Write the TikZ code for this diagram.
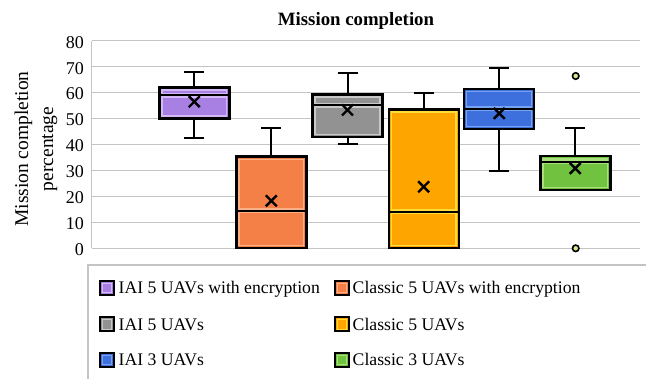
\documentclass[tikz,border=0pt]{standalone}
\usepackage{fontspec}
\setmainfont{Liberation Serif}
\definecolor{gridc}{HTML}{C4C4C4}
\definecolor{cPur}{HTML}{A880E4}
\definecolor{lPur}{HTML}{D4B9F6}
\definecolor{cOra}{HTML}{F47F47}
\definecolor{lOra}{HTML}{F9AF88}
\definecolor{cGry}{HTML}{929292}
\definecolor{lGry}{HTML}{C9C9C9}
\definecolor{cYel}{HTML}{FFA500}
\definecolor{lYel}{HTML}{FFDD3A}
\definecolor{cBlu}{HTML}{3D70DC}
\definecolor{lBlu}{HTML}{78A3F2}
\definecolor{cGrn}{HTML}{70C23F}
\definecolor{lGrn}{HTML}{A9E07F}
\definecolor{outl}{HTML}{D8E48A}
% #1 centre x, #2 lower whisker, #3 q1, #4 median, #5 q3, #6 upper whisker, #7 mean, #8 fill, #9 light
\newcommand\ybox[9]{%
  \draw[whisk] (#1,{yv(#5)}) -- (#1,{yv(#6)});
  \draw[whisk] ({#1-10},{yv(#6)}) -- ({#1+10},{yv(#6)});
  \draw[whisk] (#1,{yv(#3)}) -- (#1,{yv(#2)});
  \draw[whisk] ({#1-10},{yv(#2)}) -- ({#1+10},{yv(#2)});
  \fill[#8] ({#1-35},{yv(#3)}) rectangle ({#1+35},{yv(#5)});
  \draw[#9, line width=1.3] ({#1-32.4},{yv(#3)-2.6}) rectangle ({#1+32.4},{yv(#5)+2.6});
  \draw[#9, line width=5] ({#1-32.4},{yv(#4)}) -- ({#1+32.4},{yv(#4)});
  \draw[black, line width=2] ({#1-35},{yv(#4)}) -- ({#1+35},{yv(#4)});
  \draw[black, line width=2.4] ({#1-35},{yv(#3)}) rectangle ({#1+35},{yv(#5)});
  \draw[meanx] ({#1-5.5},{yv(#7)-5.5}) -- ({#1+5.5},{yv(#7)+5.5});
  \draw[meanx] ({#1-5.5},{yv(#7)+5.5}) -- ({#1+5.5},{yv(#7)-5.5});
}
\newcommand\lmark[3]{%
  \fill[#2] ($(#1)+(-7,-7)$) rectangle ($(#1)+(7,7)$);
  \draw[#3, line width=1] ($(#1)+(-4.8,-4.8)$) rectangle ($(#1)+(4.8,4.8)$);
  \draw[black, line width=2] ($(#1)+(-7,-7)$) rectangle ($(#1)+(7,7)$);
}
\usetikzlibrary{calc}
\begin{document}
\begin{tikzpicture}[x=1pt,y=-1pt,
  declare function={yv(\v)=248.3-2.595*\v;},
  grid/.style={gridc, line width=1.5},
  whisk/.style={black, line width=2},
  meanx/.style={black, line width=2.4},
  tick/.style={font=\fontsize{18}{20}\selectfont, inner sep=0pt, anchor=east},
  legtext/.style={font=\fontsize{17.7}{20}\selectfont, inner sep=0pt, anchor=base west},
  outlier/.style={circle, draw=black, fill=outl, line width=1.6, inner sep=0pt, minimum size=6.5pt}]
\useasboundingbox (0,0) rectangle (646,379);
\fill[white] (0,0) rectangle (646,379);
% grid and ticks
\foreach \v in {0,10,...,80}{
  \draw[grid] (91.7,{yv(\v)}) -- (640,{yv(\v)});
  \node[tick] (t\v) at (84,{yv(\v)+1.5}) {\v};
}
\draw[grid] (91.7,{yv(0)}) -- (91.7,{yv(80)});
% title and axis label
\node[font=\bfseries\fontsize{18.8}{22}\selectfont, anchor=base, inner sep=0pt] (title) at (356,26) {Mission completion};
\node[rotate=90, align=center, inner sep=0pt, font=\fontsize{19.5}{25}\selectfont] (ylab) at (36,149) {Mission completion\\percentage};
% boxes
\ybox{194.3}{42.6}{50}{59}{62}{67.8}{56.5}{cPur}{lPur}
\ybox{271.3}{0}{0}{14.5}{35.3}{46.2}{18.3}{cOra}{lOra}
\ybox{347.5}{40.2}{42.8}{55.2}{59.3}{67.7}{53.3}{cGry}{lGry}
\ybox{423.7}{0}{0}{14.1}{53.5}{60}{23.7}{cYel}{lYel}
\ybox{499.2}{29.9}{45.9}{53.8}{61.3}{69.4}{52}{cBlu}{lBlu}
\ybox{575.3}{22.4}{22.4}{33.3}{35.6}{46.4}{30.8}{cGrn}{lGrn}
\node[outlier] (o1) at (575.7,{yv(66.4)}) {};
\node[outlier] (o2) at (575.7,{yv(0)}) {};
% legend
\draw[gridc, line width=1.2] (88,265) rectangle (660,400);
\coordinate (m1) at (107,288);
\coordinate (m2) at (342,288);
\coordinate (m3) at (107,324.5);
\coordinate (m4) at (342,324.5);
\coordinate (m5) at (107,360);
\coordinate (m6) at (342,360);
\lmark{m1}{cPur}{lPur}
\lmark{m2}{cOra}{lOra}
\lmark{m3}{cGry}{lGry}
\lmark{m4}{cYel}{lYel}
\lmark{m5}{cBlu}{lBlu}
\lmark{m6}{cGrn}{lGrn}
\node[legtext] (l1) at (118.5,294) {IAI 5 UAVs with encryption};
\node[legtext] (l2) at (352.5,294) {Classic 5 UAVs with encryption};
\node[legtext] (l3) at (118.5,330.5) {IAI 5 UAVs};
\node[legtext] (l4) at (352.5,330.5) {Classic 5 UAVs};
\node[legtext] (l5) at (118.5,366) {IAI 3 UAVs};
\node[legtext] (l6) at (352.5,366) {Classic 3 UAVs};
\end{tikzpicture}
\end{document}
